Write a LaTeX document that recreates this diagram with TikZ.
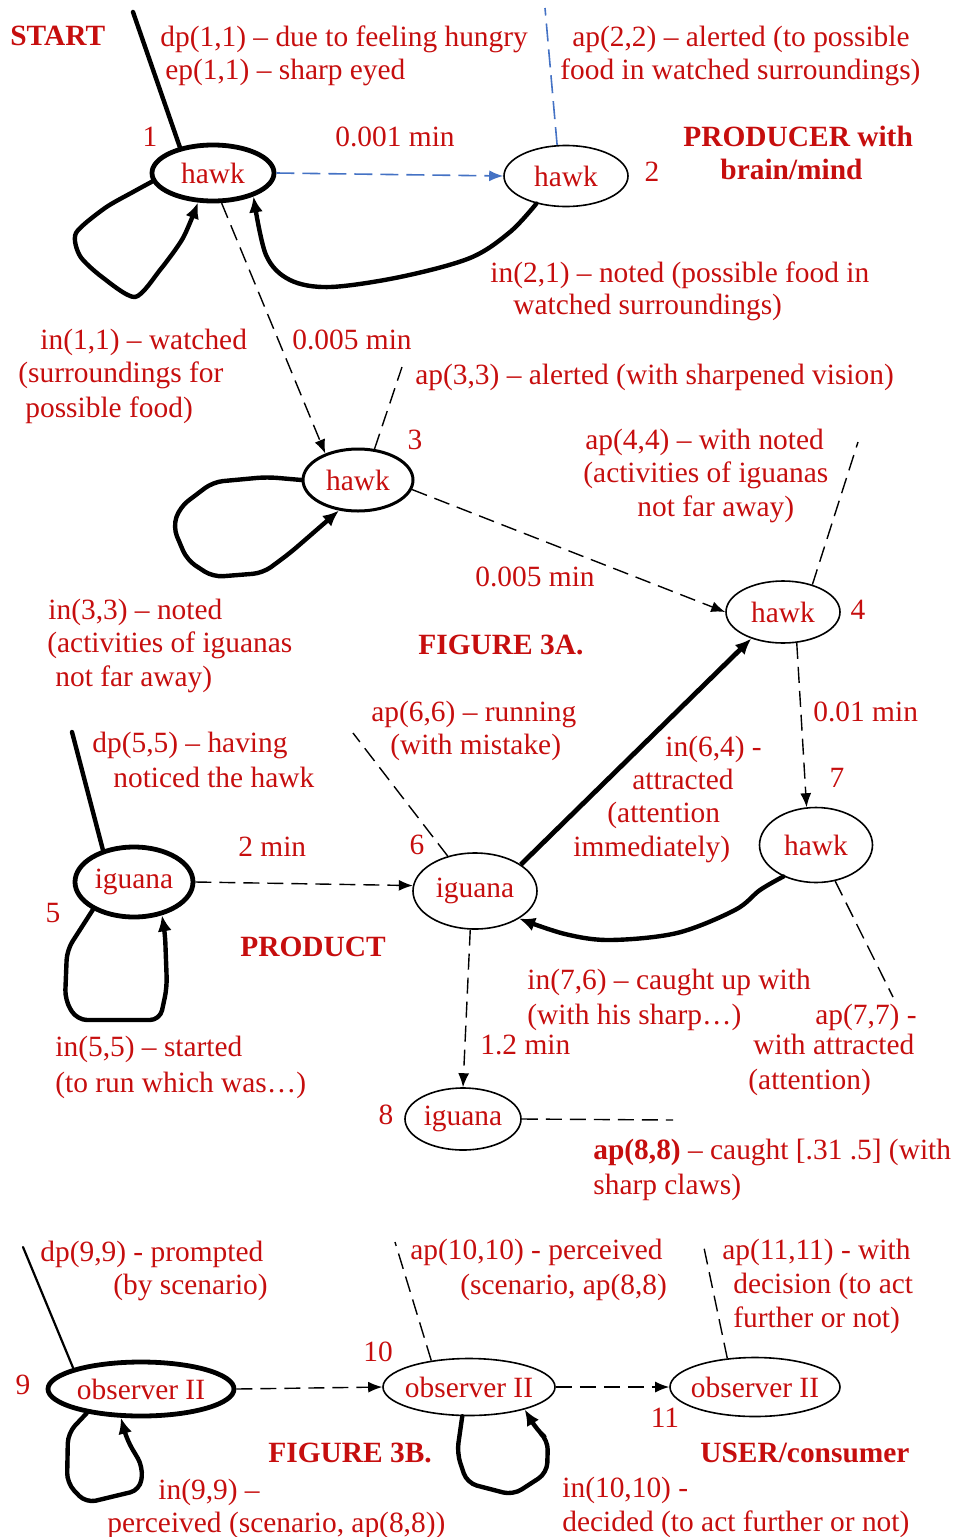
\documentclass[tikz,border=0pt]{standalone}
\usepackage{fontspec}
\setmainfont{Liberation Serif}
\usetikzlibrary{shapes.geometric,arrows.meta}

\definecolor{labred}{RGB}{198,14,14}
\definecolor{linkblue}{RGB}{68,114,196}
\newcommand\statetext[1]{\makebox[0pt]{#1}}

\begin{document}
\begin{tikzpicture}[x=0.5pt,y=-0.5pt,
  every node/.style={font=\fontsize{14.7}{17}\selectfont, text=labred},
  state/.style={ellipse, draw=black, line width=0.8pt, inner sep=0pt},
  startstate/.style={state, line width=2.4pt},
  lbl/.style={anchor=west, inner sep=0pt, text height=0.72em, text depth=0.22em, yshift=-2pt},
  ttl/.style={lbl, font=\fontsize{14.7}{17}\selectfont\bfseries},
  num/.style={inner sep=0pt, text height=0.72em, text depth=0.22em, yshift=-2pt},
  dashlink/.style={draw=black, line width=0.7pt, dash pattern=on 8pt off 4pt},
  bluelink/.style={draw=linkblue, line width=0.8pt, dash pattern=on 9pt off 4pt},
  arrowhd/.style={-{Latex[length=7pt,width=5.5pt]}},
  bigarrowhd/.style={-{Latex[length=8pt,width=7pt]}},
  hand/.style={line width=2.2pt, line join=round, line cap=round, rounded corners=5pt},
  stem/.style={line width=2pt, line cap=round}
]
\useasboundingbox (0,0) rectangle (955,1537);

% ---------- states ----------
\node[startstate, minimum width=61pt, minimum height=28pt] (h1) at (213,173) {\statetext{hawk}};
\node[state, minimum width=62pt, minimum height=30.5pt] (h2) at (566,176) {\statetext{hawk}};
\node[state, line width=1.5pt, minimum width=55pt, minimum height=31pt] (h3) at (358,480) {\statetext{hawk}};
\node[state, minimum width=57pt, minimum height=31pt] (h4) at (783,612) {\statetext{hawk}};
\node[state, minimum width=56.5pt, minimum height=37.5pt] (h7) at (816,845) {\statetext{hawk}};
\node[startstate, minimum width=59pt, minimum height=35pt] (i5) at (134,882) {\statetext{iguana}};
\node[state, minimum width=62pt, minimum height=38pt] (i6) at (475,891) {\statetext{iguana}};
\node[state, minimum width=58pt, minimum height=31pt] (i8) at (463,1119) {\statetext{iguana}};
\node[startstate, minimum width=93pt, minimum height=27pt] (o9) at (141,1389) {\statetext{observer II}};
\node[state, minimum width=86pt, minimum height=28.5pt] (o10) at (469,1387) {\statetext{observer II}};
\node[state, minimum width=85pt, minimum height=29.5pt] (o11) at (755,1387) {\statetext{observer II}};

% ---------- free ends of the stems ----------
\coordinate (s1) at (133,12);
\coordinate (a2) at (545,8);
\coordinate (a3) at (402,367);
\coordinate (a4) at (858,442);
\coordinate (s5) at (72,732);
\coordinate (a6) at (353,733);
\coordinate (a7) at (893,997);
\coordinate (a8) at (673,1120);
\coordinate (s9) at (23,1247);
\coordinate (a10) at (395,1242);
\coordinate (a11) at (703,1243);

% ---------- stems ----------
\draw[stem, line width=2.2pt] (s1) -- (h1.142);
\draw[bluelink] (h2.106) -- (a2);
\draw[dashlink] (h3.62) -- (a3);
\draw[dashlink] (h4.43) -- (a4);
\draw[stem, line width=2.2pt] (s5) -- (i5.134);
\draw[dashlink] (i6.128) -- (a6);
\draw[dashlink] (h7.298) -- (a7);
\draw[dashlink] (i8.east) -- (a8);
\draw[stem, line width=1.1pt] (s9) -- (o9.163);
\draw[dashlink] (o10.145) -- (a10);
\draw[dashlink] (o11.134) -- (a11);

% ---------- timed transitions ----------
\draw[bluelink, -{Latex[length=7pt,width=5.5pt]}] (h1.east) -- (h2.west);
\draw[dashlink, arrowhd] (h1.286) -- (h3.141);
\draw[dashlink, arrowhd] (h3.350) -- (h4.west);
\draw[dashlink, arrowhd] (h4.294) -- (h7.104);
\draw[dashlink, arrowhd] (i5.east) -- (i6.175);
\draw[dashlink, arrowhd] (i6.263) -- (i8.north);
\draw[dashlink, arrowhd] (o9.east) -- (o10.west);
\draw[dashlink, arrowhd] (o10.east) -- (o11.west);

% ---------- influences ----------
\draw[line width=2.4pt, bigarrowhd] (i6.30) -- (h4.220);
\draw[hand, rounded corners=0pt, bigarrowhd] plot[smooth, tension=0.55] coordinates
  {(h2.223) (510,232) (470,258) (400,277) (330,287) (290,280) (266,255) (h1.330)};
\draw[hand, rounded corners=0pt, bigarrowhd] plot[smooth, tension=0.55] coordinates
  {(h7.224) (760,890) (735,910) (677,933) (610,940) (565,934) (i6.328)};

% ---------- self loops ----------
\draw[hand, rounded corners=0pt, bigarrowhd] plot[smooth, tension=0.45] coordinates
  {(h1.188) (133,192) (105,208) (76,233) (80,256) (102,277) (135,297) (160,270) (183,238) (h1.243)};
\draw[hand, bigarrowhd] (h3.180) -- (267,477) -- (213,482) -- (180,507) -- (173,527) -- (187,560) -- (213,577) -- (263,573) -- (290,553) -- (h3.238);
\draw[hand, bigarrowhd] (i5.214) -- (67,950) -- (65,1000) -- (77,1020) -- (160,1020) -- (167,987) -- (165,933) -- (i5.310);
\draw[hand, bigarrowhd] (o9.204) -- (68,1433) -- (67,1483) -- (86,1503) -- (140,1490) -- (143,1467) -- (127,1440) -- (o9.235);
\draw[hand, bigarrowhd] (o10.257) -- (457,1453) -- (467,1483) -- (513,1495) -- (547,1473) -- (548,1440) -- (537,1430) -- (o10.338);

% ---------- state numbers ----------
\node[num] (n1) at (150,137) {1};
\node[num] (n2) at (652,172) {2};
\node[num] (n3) at (415,440) {3};
\node[num] (n4) at (858,610) {4};
\node[num] (n5) at (53,913) {5};
\node[num] (n6) at (417,845) {6};
\node[num] (n7) at (837,778) {7};
\node[num] (n8) at (386,1115) {8};
\node[num] (n9) at (23,1385) {9};
\node[num] (n10) at (378,1352) {10};
\node[num] (n11) at (665,1418) {11};

% ---------- titles ----------
\node[ttl] (tStart) at (10,36) {START};
\node[ttl] (tProd1) at (683,137) {PRODUCER with};
\node[ttl] (tProd2) at (720,170) {brain/mind};
\node[ttl] (tFigA) at (418,645) {FIGURE 3A.};
\node[ttl] (tProduct) at (240,947) {PRODUCT};
\node[ttl] (tFigB) at (268,1453) {FIGURE 3B.};
\node[ttl] (tUser) at (700,1453) {USER/consumer};

% ---------- times ----------
\node[lbl] (d12) at (335,137) {0.001 min};
\node[lbl] (d13) at (292,340) {0.005 min};
\node[lbl] (d34) at (475,577) {0.005 min};
\node[lbl] (d47) at (813,712) {0.01 min};
\node[lbl] (d56) at (238,847) {2 min};
\node[lbl] (d68) at (480,1045) {1.2 min};

% ---------- descriptions ----------
\node[lbl] (q1a) at (160,37) {dp(1,1) – due to feeling hungry};
\node[lbl] (q1b) at (165,70) {ep(1,1) – sharp eyed};
\node[lbl] (q2a) at (572,37) {ap(2,2) – alerted (to possible};
\node[lbl] (q2b) at (560,70) {food in watched surroundings)};
\node[lbl] (q21a) at (490,273) {in(2,1) – noted (possible food in};
\node[lbl] (q21b) at (513,305) {watched surroundings)};
\node[lbl] (q11a) at (40,340) {in(1,1) – watched};
\node[lbl] (q11b) at (18,373) {(surroundings for};
\node[lbl] (q11c) at (25,408) {possible food)};
\node[lbl] (q3) at (415,375) {ap(3,3) – alerted (with sharpened vision)};
\node[lbl] (q4a) at (585,440) {ap(4,4) – with noted};
\node[lbl] (q4b) at (583,473) {(activities of iguanas};
\node[lbl] (q4c) at (637,507) {not far away)};
\node[lbl] (q33a) at (48,610) {in(3,3) – noted};
\node[lbl] (q33b) at (47,643) {(activities of iguanas};
\node[lbl] (q33c) at (55,677) {not far away)};
\node[lbl] (q6a) at (371,712) {ap(6,6) – running};
\node[lbl] (q6b) at (390,745) {(with mistake)};
\node[lbl] (q5a) at (92,743) {dp(5,5) – having};
\node[lbl] (q5b) at (113,778) {noticed the hawk};
\node[lbl] (q64a) at (665,747) {in(6,4) -};
\node[lbl] (q64b) at (632,780) {attracted};
\node[lbl] (q64c) at (607,813) {(attention};
\node[lbl] (q64d) at (573,847) {immediately)};
\node[lbl] (q76a) at (527,980) {in(7,6) – caught up with};
\node[lbl] (q76b) at (527,1015) {(with his sharp…)};
\node[lbl] (q7a) at (815,1015) {ap(7,7) -};
\node[lbl] (q7b) at (753,1045) {with attracted};
\node[lbl] (q7c) at (748,1080) {(attention)};
\node[lbl] (q55a) at (55,1047) {in(5,5) – started};
\node[lbl] (q55b) at (55,1083) {(to run which was…)};
\node[lbl] (q8a) at (593,1150) {\textbf{ap(8,8)} – caught [.31 .5] (with};
\node[lbl] (q8b) at (593,1185) {sharp claws)};
\node[lbl] (q9a) at (40,1252) {dp(9,9) - prompted};
\node[lbl] (q9b) at (113,1285) {(by scenario)};
\node[lbl] (q10a) at (410,1250) {ap(10,10) - perceived};
\node[lbl] (q10b) at (460,1285) {(scenario, ap(8,8)};
\node[lbl] (q11na) at (722,1250) {ap(11,11) - with};
\node[lbl] (q11nb) at (733,1284) {decision (to act};
\node[lbl] (q11nc) at (733,1318) {further or not)};
\node[lbl] (q99a) at (158,1490) {in(9,9) –};
\node[lbl] (q99b) at (107,1523) {perceived (scenario, ap(8,8))};
\node[lbl] (q1010a) at (562,1488) {in(10,10) -};
\node[lbl] (q1010b) at (562,1522) {decided (to act further or not)};
\end{tikzpicture}
\end{document}
